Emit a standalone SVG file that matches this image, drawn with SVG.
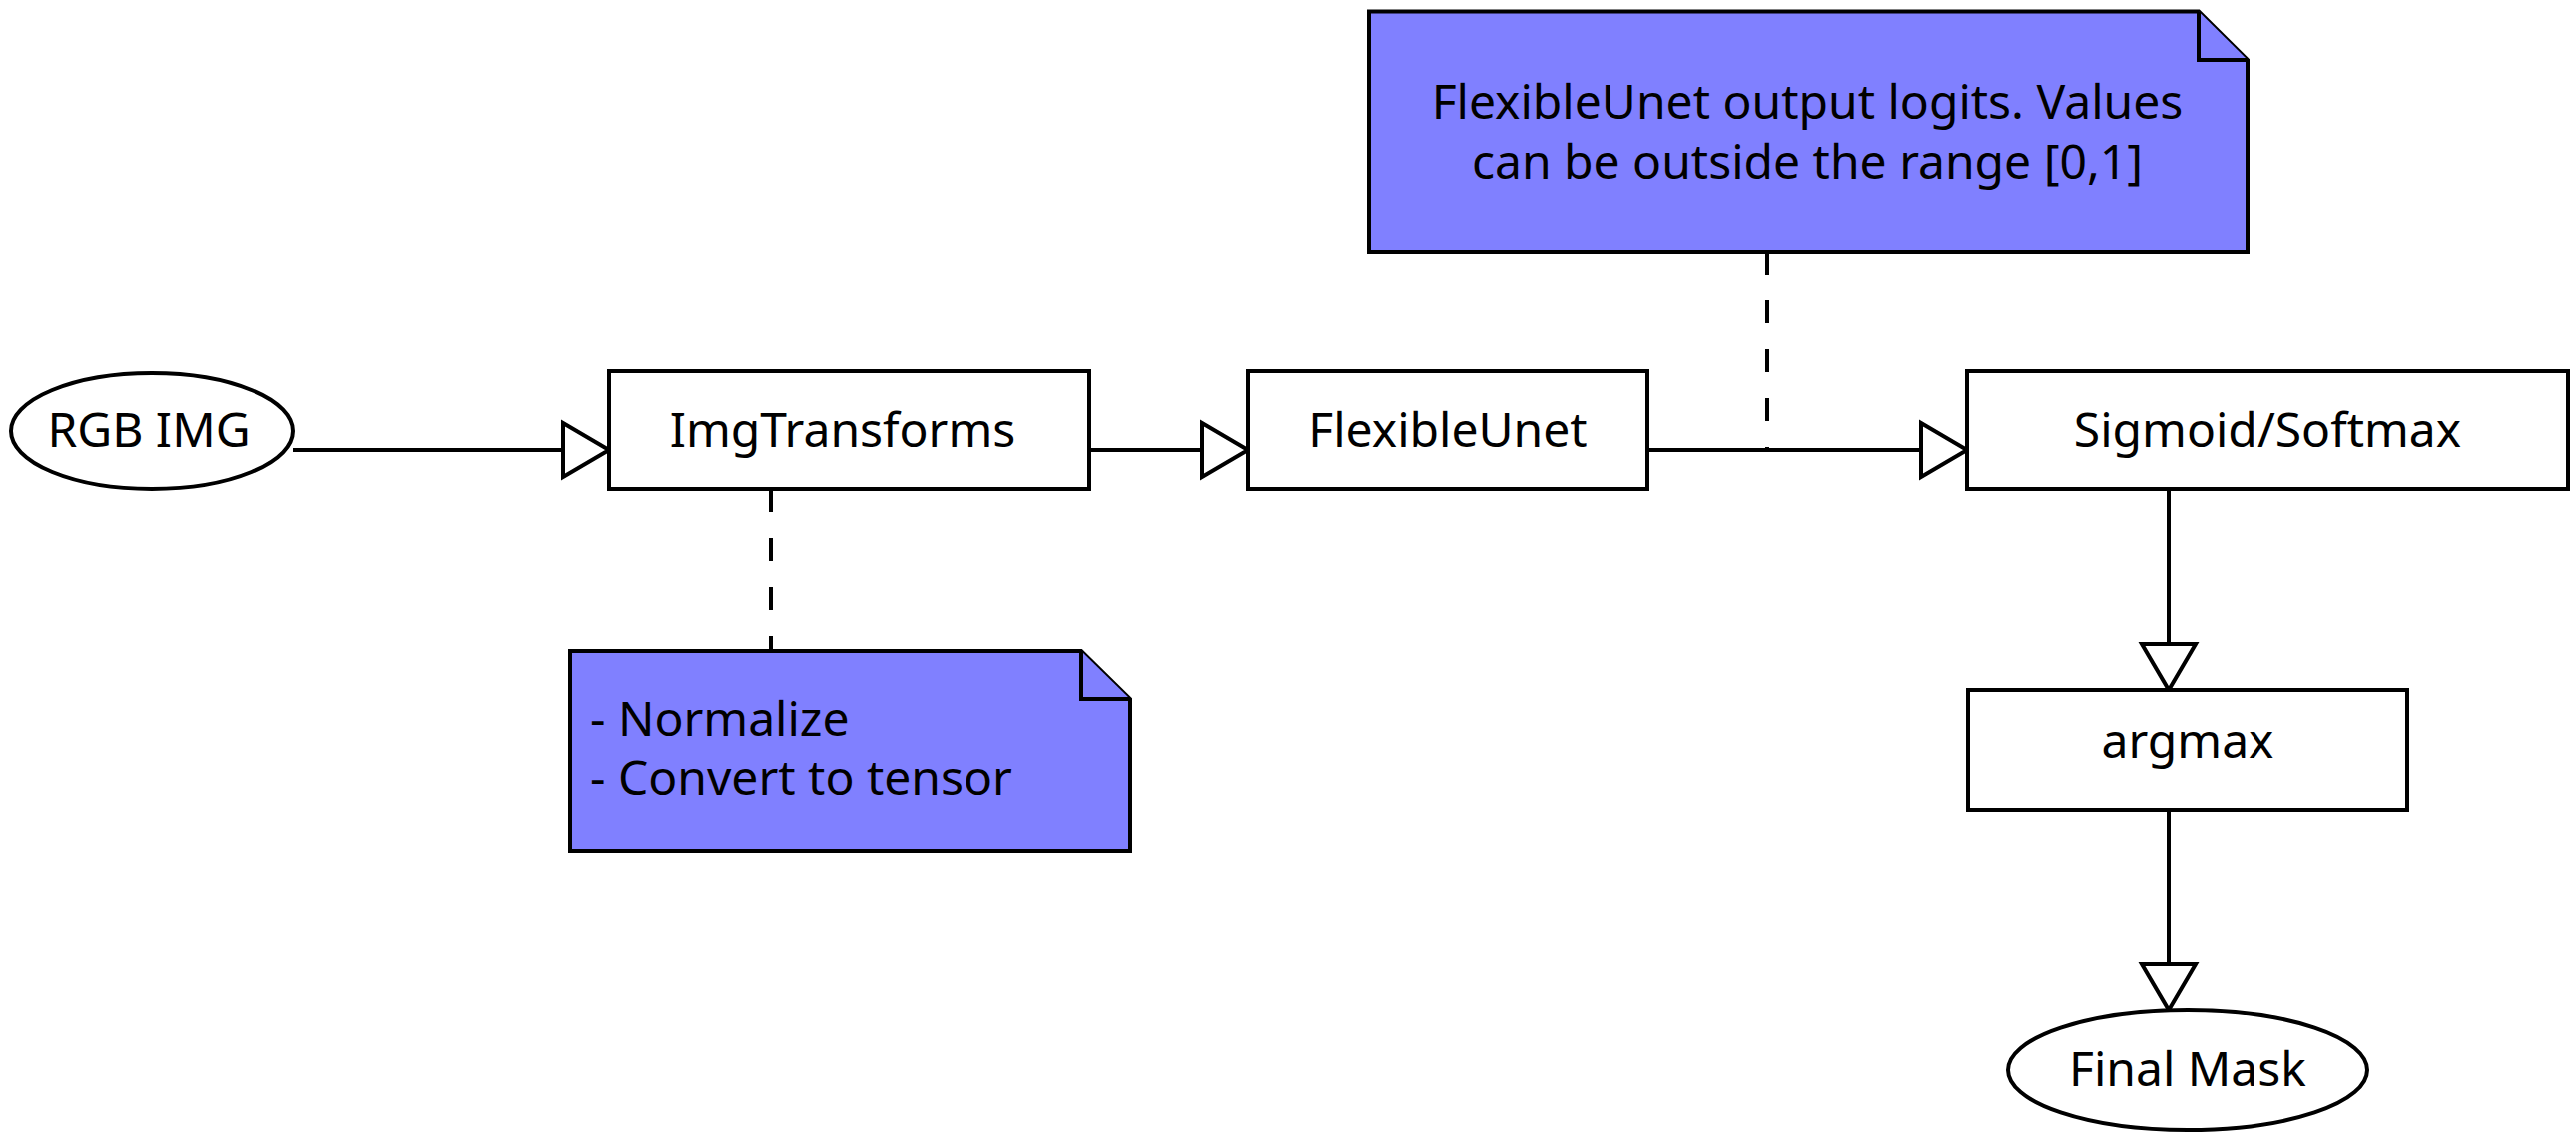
<svg xmlns="http://www.w3.org/2000/svg" width="2580" height="1140" viewBox="0 0 2580 1140">
<defs>
<style>
.n{fill:#fff;stroke:#000;stroke-width:4}
.note{fill:#8080ff;stroke:#000;stroke-width:4;stroke-linejoin:miter}
.t{font-family:"Noto Sans","Open Sans","DejaVu Sans",sans-serif;font-size:48px;fill:#000}
.c{text-anchor:middle}
.e{fill:none;stroke:#000;stroke-width:4}
.d{fill:none;stroke:#000;stroke-width:4;stroke-dasharray:23 26}
</style>
<marker id="ah" markerUnits="userSpaceOnUse" markerWidth="60" markerHeight="60" viewBox="-3 -3 52 60" refX="46" refY="27" orient="auto" overflow="visible">
<path d="M0,0 L46,27 L0,54 Z" fill="#fff" stroke="#000" stroke-width="4"/>
</marker>
</defs>
<rect width="2580" height="1140" fill="#fff"/>
<g id="connectors">
<path class="e" d="M293,451 H610" marker-end="url(#ah)"/>
<path class="e" d="M1091,451 H1250" marker-end="url(#ah)"/>
<path class="e" d="M1650,451 H1970" marker-end="url(#ah)"/>
<path class="e" d="M2172,490 V691" marker-end="url(#ah)"/>
<path class="e" d="M2172,811 V1012" marker-end="url(#ah)"/>
<path class="d" d="M772,490 V652"/>
<path class="d" d="M1770,252 V451"/>
</g>
<g id="rgb-img">
<ellipse class="n" cx="152" cy="432" rx="141" ry="58"/>
<text class="t c" x="149" y="448">RGB IMG</text>
</g>
<g id="img-transforms">
<rect class="n" x="610" y="372" width="481" height="118"/>
<text class="t c" x="844" y="448">ImgTransforms</text>
</g>
<g id="flexible-unet">
<rect class="n" x="1250" y="372" width="400" height="118"/>
<text class="t c" x="1450" y="448">FlexibleUnet</text>
</g>
<g id="sigmoid-softmax">
<rect class="n" x="1970" y="372" width="602" height="118"/>
<text class="t c" x="2271" y="448">Sigmoid/Softmax</text>
</g>
<g id="argmax">
<rect class="n" x="1971" y="691" width="440" height="120"/>
<text class="t c" x="2191" y="759">argmax</text>
</g>
<g id="final-mask">
<ellipse class="n" cx="2191" cy="1072" rx="180" ry="60"/>
<text class="t c" x="2191" y="1088">Final Mask</text>
</g>
<g id="note-logits">
<path class="note" d="M1371,11.5 H2202 L2251,60 V252 H1371 Z"/>
<path class="note" d="M2202,11.5 V60 H2251"/>
<text class="t c" x="1810" y="119">FlexibleUnet output logits. Values</text>
<text class="t c" x="1810" y="179">can be outside the range [0,1]</text>
</g>
<g id="note-transforms">
<path class="note" d="M571,652 H1083 L1132,700 V852 H571 Z"/>
<path class="note" d="M1083,652 V700 H1132"/>
<text class="t" x="591" y="737">- Normalize</text>
<text class="t" x="591" y="796">- Convert to tensor</text>
</g>
</svg>
